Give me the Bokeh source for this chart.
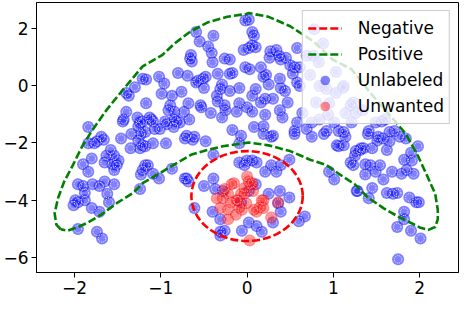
from bokeh.plotting import figure
from bokeh.models import Range1d, FixedTicker, Legend, LegendItem, ColumnDataSource
from bokeh.embed import file_html
from bokeh.resources import INLINE

# ---------------- data ----------------
unl_x = [-1.21, -1.30, -1.40, -1.37, -1.17, -1.40, -1.43, -1.44, -1.27, -1.24, -1.26, -1.84, -1.69, -1.46, -1.34,
         -1.23, -1.74, -1.66, -1.35, -1.21, -0.02, -0.59, -0.55, -0.39, -0.45, -0.41, -0.40, -0.65, -0.66, -0.64,
         -0.26, -0.04, 0.02, 0.06, -0.02, -0.80, -0.69, -1.17, -1.02, -0.96, -0.59, -0.51, -0.48, -0.57, -0.50,
         -0.34, -0.20, -0.17, -0.29, -0.31, -0.20, -0.09, -0.35, -0.34, -0.76, -0.87, -0.99, -0.89, -0.91, -0.84,
         -0.68, -0.73, -0.53, -0.09, -0.12, -0.25, -0.42, -0.29, 0.00, -1.13, -1.09, -0.95, -0.84, -0.78, -0.67,
         -1.07, -1.01, -0.85, -1.18, -0.70, -0.61, -0.17, -0.07, -1.21, -1.11, -0.93, -0.82, -0.26, -0.54, -0.94,
         -0.72, -0.63, -0.48, 0.02, 0.08, 0.06, 0.10, 0.27, 0.34, 0.39, 0.45, 0.58, 0.50, 0.55, 0.53,
         0.61, 0.69, 0.78, 0.88, 0.77, 0.83, 1.03, 0.73, 0.03, 0.16, 0.19, 0.22, 0.25, 0.38, 0.39,
         0.44, 0.58, 0.61, 0.10, 0.06, 0.16, 0.21, 0.30, 0.47, 0.38, 0.21, 0.41, 0.06, 0.08, 0.19,
         0.30, 0.55, 0.58, 0.64, 0.69, 0.75, 0.84, 0.94, 0.92, 1.01, 1.06, 1.12, 1.14, 1.11, 0.92,
         1.03, 1.12, 0.95, 0.80, 0.84, 1.20, 1.23, 1.34, 1.26, 1.21, 1.49, 1.60, 1.56, 1.41, 1.65,
         1.77, 1.52, 1.04, 1.31, 1.71, 1.84, 1.98, 0.89, 0.75, 0.19, -0.20, 0.26, 0.37, -1.77, -1.84,
         -1.26, -1.24, -1.58, -1.63, -1.54, -1.49, -1.56, -1.65, -1.51, -1.54, -1.80, -1.90, -1.84, -1.23, -1.18,
         -1.96, -1.90, -1.88, -1.79, -1.71, -1.65, -1.54, -1.99, -1.96, -1.88, -2.01, -1.62, -1.60, -1.80, -1.71,
         -1.24, -1.96, -1.74, -1.68, -1.09, -1.18, -0.39, -1.15, -1.21, -1.09, -1.02, -0.87, -0.70, -0.68, -0.50,
         -0.39, -0.37, -0.61, -0.40, -0.31, -0.31, -0.26, -0.31, -0.06, -0.09, -0.03, 0.00, -0.09, -0.28, -0.07,
         0.02, 0.28, 0.55, 1.06, 1.12, 1.14, 1.20, 1.25, 1.23, 0.95, 1.01, 1.27, 0.49, 0.39, 0.34,
         0.28, 0.21, 0.11, 0.06, 0.10, 0.25, 0.38, 0.49, 0.36, 0.39, 0.30, 0.17, 0.11, 0.02, 0.67,
         0.60, 1.40, 1.51, 1.58, 1.65, 1.32, 1.35, 1.45, 1.26, 1.62, 1.37, 1.43, 1.54, 1.49, 1.37,
         1.58, 1.68, 1.79, 1.85, 1.93, 1.82, 1.91, 1.90, 1.28, 1.45, 1.41, 1.62, 1.69, 1.74, 1.88,
         1.96, 1.99, 1.82, 1.82, 1.74, 1.90, 2.01, 1.75, -0.72]
unl_y = [0.24, -0.06, -0.26, -0.36, -0.62, -0.92, -1.19, -1.26, -1.12, -1.29, -1.42, -1.45, -1.79, -1.85, -1.69,
         -1.69, -1.95, -1.89, -2.19, -2.09, 2.27, 1.87, 1.54, 1.74, 1.36, 1.14, 0.81, 1.07, 0.94, 0.84,
         0.94, 1.24, 1.31, 1.87, 0.64, 0.44, 0.34, 0.21, 0.31, 0.07, 0.11, 0.24, 0.31, 0.17, -0.09,
         0.41, 0.41, 0.44, 0.04, -0.12, -0.19, -0.09, -0.36, -0.56, -0.22, -0.36, -0.29, -0.69, -0.86, -0.92,
         -0.62, -0.92, -0.76, -0.62, -0.92, -0.86, -0.96, -1.12, -0.76, -1.12, -1.26, -1.26, -1.19, -1.29, -1.19,
         -1.52, -1.52, -1.45, -1.62, -1.75, -1.79, -1.55, -1.75, -1.26, -1.19, -1.35, -1.26, -0.69, -0.69, -2.02,
         -1.85, -1.89, -1.95, 2.30, 1.74, 1.40, 1.34, 1.20, 1.24, 0.91, 0.97, 1.31, 0.71, 0.64, 0.41,
         0.64, 1.04, 1.97, 1.47, 1.04, 0.81, 0.47, 0.37, 0.57, 0.64, 0.31, 0.37, 0.04, 0.24, -0.09,
         -0.19, 0.11, -0.02, -0.12, -0.36, -0.59, -0.46, -0.46, -0.59, -0.86, -1.02, -1.12, -0.92, -1.45, -1.42,
         -1.75, -1.59, -1.29, -0.96, -1.52, -1.29, -1.19, -1.02, -1.59, -1.29, -1.59, -1.62, -0.96, -0.09, -0.12,
         -0.26, -0.02, -0.62, -0.59, -0.02, -0.69, -0.59, -0.86, -0.96, -1.29, -1.29, -1.19, -1.26, -1.59, -1.62,
         -1.79, -1.79, -2.09, -2.25, -1.59, -1.85, -2.12, -1.69, -1.79, -1.69, 0.91, 0.97, 1.04, -2.02, -2.02,
         -1.92, -2.19, -2.25, -2.45, -2.45, -2.62, -2.75, -2.69, -2.78, -2.95, -2.55, -2.75, -3.01, -3.11, -2.78,
         -3.45, -3.51, -3.75, -3.45, -3.51, -3.35, -3.45, -4.01, -4.08, -4.01, -4.18, -3.78, -4.08, -4.28, -4.41,
         -3.61, -5.01, -5.11, -5.34, -2.02, -2.12, -2.42, -2.78, -2.95, -3.08, -3.25, -2.91, -3.25, -3.35, -3.51,
         -3.25, -3.61, -4.28, -4.41, -4.67, -5.11, -5.07, -5.24, -5.07, -2.69, -2.78, -2.62, -2.02, -3.68, -4.08,
         -3.68, -1.79, -1.69, -2.12, -2.09, -1.79, -2.69, -2.45, -2.78, -3.01, -3.28, -3.68, -2.59, -2.78, -3.01,
         -2.78, -3.01, -2.69, -2.62, -3.45, -3.78, -3.68, -3.91, -4.11, -4.41, -4.78, -5.11, -4.91, -4.78, -4.57,
         -4.74, -1.69, -1.92, -1.85, -1.95, -2.19, -2.19, -2.19, -2.29, -2.25, -2.75, -2.78, -2.78, -3.01, -3.11,
         -3.28, -3.01, -3.08, -2.95, -3.08, -2.59, -2.62, -2.35, -3.68, -3.58, -3.94, -3.75, -3.78, -3.75, -3.91,
         -4.08, -4.08, -4.41, -4.67, -4.94, -5.07, -5.34, -6.07, -3.25]

unw_x = [-0.26, -0.18, -0.15, -0.22, -0.28, -0.35, -0.31, -0.22, -0.09, -0.12, -0.07, -0.03, 0.02, -0.22, -0.01,
         -0.06, 0.04, 0.17, 0.08, 0.19, 0.28, 0.36, 0.03, 0.00, 0.07, -0.13, -0.19, -0.11, -0.03, 0.06,
         0.15, 0.11, 0.19]
unw_y = [-3.61, -3.45, -3.41, -3.78, -3.94, -3.94, -4.28, -4.34, -4.25, -4.01, -3.78, -3.58, -3.35, -4.67, -4.11,
         -4.34, -3.45, -4.01, -4.34, -4.28, -4.61, -4.08, -5.41, -3.18, -3.68, -4.51, -4.08, -4.01, -3.78, -3.41,
         -4.25, -4.41, -4.01]

# boundary of the "Positive" region (outer arc, then inner arc)
pos_x = [-2.16, -2.21, -2.23, -2.19, -2.12, -2.02, -1.91, -1.80, -1.63, -1.45, -1.21, -0.98, -0.84, -0.65, -0.46,
         -0.23, -0.01, 0.02, 0.25, 0.50, 0.77, 0.99, 1.21, 1.43, 1.65, 1.84, 1.90, 1.99, 2.08, 2.18,
         2.21, 2.21, 2.18, 2.10, 2.01, 1.90, 1.77, 1.58, 1.40, 1.25, 1.11, 0.92, 0.73, 0.50, 0.25,
         0.02, -0.28, -0.46, -0.65, -0.84, -1.02, -1.21, -1.32, -1.51, -1.69, -1.84, -1.96, -2.08, -2.16]
pos_y = [-5.02, -4.86, -4.46, -3.93, -3.36, -2.79, -2.12, -1.59, -0.86, -0.19, 0.67, 1.07, 1.47, 1.90, 2.20,
         2.40, 2.50, 2.53, 2.40, 2.07, 1.54, 0.91, 0.57, -0.26, -1.02, -1.69, -2.02, -2.52, -3.11, -3.78,
         -4.34, -4.67, -4.94, -5.04, -4.97, -4.80, -4.61, -4.28, -3.91, -3.45, -3.18, -2.78, -2.59, -2.29, -2.09,
         -1.99, -2.12, -2.25, -2.42, -2.75, -3.08, -3.41, -3.75, -4.11, -4.51, -4.78, -4.94, -5.07, -5.02]

# "Negative" ellipse
neg_cx = [0.0]
neg_cy = [-3.86]
neg_w = [1.29]
neg_h = [3.14]

x_ticks = [-2, -1, 0, 1, 2]
x_tick_labels = ["\u22122", "\u22121", "0", "1", "2"]
y_ticks = [-6, -4, -2, 0, 2]
y_tick_labels = ["\u22126", "\u22124", "\u22122", "0", "2"]

legend_labels = ["Negative", "Positive", "Unlabeled", "Unwanted"]

# ---------------- figure ----------------
FONT = "DejaVu Sans"
DASH = "8 3"
p = figure(width=460, height=296, output_backend="svg", toolbar_location=None,
           x_range=Range1d(-2.44, 2.45), y_range=Range1d(-6.53, 2.9),
           min_border_left=5, min_border_right=2, min_border_top=2, min_border_bottom=5)
p.grid.visible = False
p.background_fill_color = "white"
p.border_fill_color = "white"
p.outline_line_color = "black"
p.outline_line_alpha = 1.0
p.outline_line_width = 1

for ax, ticks, labels in [(p.xaxis[0], x_ticks, x_tick_labels), (p.yaxis[0], y_ticks, y_tick_labels)]:
    ax.ticker = FixedTicker(ticks=ticks)
    ax.major_label_overrides = {t: l for t, l in zip(ticks, labels)}
    ax.axis_line_color = "black"
    ax.major_tick_line_color = "black"
    ax.major_tick_in = 0
    ax.major_tick_out = 5
    ax.minor_tick_line_color = None
    ax.major_label_text_font = FONT
    ax.major_label_text_font_size = "17px"
    ax.major_label_text_color = "black"
    ax.major_label_standoff = 3

unl_src = ColumnDataSource(data=dict(x=unl_x, y=unl_y))
unw_src = ColumnDataSource(data=dict(x=unw_x, y=unw_y))

unl_r = p.scatter("x", "y", source=unl_src, size=12, marker="circle",
                  fill_color="blue", fill_alpha=0.5, line_color=None)
p.scatter("x", "y", source=unl_src, size=7.5, marker="circle", fill_color=None,
          line_color="white", line_alpha=0.85, line_width=1, line_dash="1 1")

unw_r = p.scatter("x", "y", source=unw_src, size=12, marker="circle",
                  fill_color="red", fill_alpha=0.45, line_color=None)
p.scatter("x", "y", source=unw_src, size=7.5, marker="circle", fill_color=None,
          line_color="white", line_alpha=0.5, line_width=1, line_dash="1 1")

pos_r = p.line(pos_x, pos_y, line_color="green", line_width=2.6, line_dash=DASH)
p.ellipse(x=neg_cx, y=neg_cy, width=neg_w, height=neg_h, fill_color=None,
          line_color="red", line_width=2.6, line_dash=DASH)
# renderer used only for the legend sample of the ellipse
neg_leg = p.line(x=[float("nan")], y=[float("nan")], line_color="red", line_width=2.6, line_dash=DASH)

legend = Legend(items=[LegendItem(label=legend_labels[0], renderers=[neg_leg]),
                       LegendItem(label=legend_labels[1], renderers=[pos_r]),
                       LegendItem(label=legend_labels[2], renderers=[unl_r]),
                       LegendItem(label=legend_labels[3], renderers=[unw_r])],
                location="top_right", margin=8, padding=5, spacing=2,
                glyph_width=34, glyph_height=24, label_height=24, label_standoff=16,
                label_text_font=FONT, label_text_font_size="17px", label_text_color="black",
                background_fill_color="white", background_fill_alpha=0.8,
                border_line_color="#cccccc", border_line_alpha=1.0, border_line_width=1)
p.add_layout(legend)

open("out.html", "w").write(file_html(p, INLINE))
